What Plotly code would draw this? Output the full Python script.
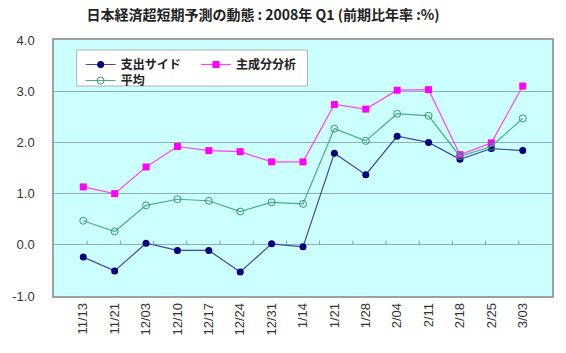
import plotly.graph_objects as go

categories = ["11/13", "11/21", "12/03", "12/10", "12/17", "12/24", "12/31", "1/14",
              "1/21", "1/28", "2/04", "2/11", "2/18", "2/25", "3/03"]
shishutsu = [-0.24, -0.51, 0.03, -0.11, -0.11, -0.53, 0.02, -0.04,
             1.79, 1.37, 2.12, 2.00, 1.67, 1.88, 1.84]
shuseibun = [1.13, 1.00, 1.52, 1.92, 1.84, 1.82, 1.62, 1.62,
             2.74, 2.65, 3.02, 3.03, 1.76, 1.99, 3.10]
heikin = [0.47, 0.26, 0.77, 0.89, 0.86, 0.65, 0.83, 0.80,
          2.27, 2.03, 2.56, 2.52, 1.73, 1.92, 2.47]
y_ticks = [-1.0, 0.0, 1.0, 2.0, 3.0, 4.0]
title_text = "日本経済超短期予測の動態 : 2008年 Q1 (前期比年率 :%)"

W, H = 566, 353
ML, MR, MT, MB = 49, 12, 40, 57

n = len(categories)
boundaries = [i + 0.5 for i in range(n - 1)]

fig = go.Figure()
# category-axis tick marks along the y=0 line (Excel-style), drawn as upward error bars
fig.add_trace(go.Scatter(x=boundaries, y=[0] * len(boundaries), xaxis="x2", yaxis="y",
                         mode="markers", marker=dict(size=1, opacity=0),
                         error_y=dict(type="data", symmetric=False, array=[0.08] * len(boundaries),
                                      arrayminus=[0] * len(boundaries), width=0,
                                      color="#7FA0A0", thickness=1),
                         showlegend=False, hoverinfo="skip"))
fig.add_trace(go.Scatter(x=categories, y=shishutsu, name="支出サイド", mode="lines+markers",
                         line=dict(color="#3F48A8", width=1.2),
                         marker=dict(symbol="circle", size=7, color="#000080"),
                         legend="legend"))
fig.add_trace(go.Scatter(x=categories, y=shuseibun, name="主成分分析", mode="lines+markers",
                         line=dict(color="#FF40FF", width=1.2),
                         marker=dict(symbol="square", size=7, color="#FF00FF"),
                         legend="legend2"))
fig.add_trace(go.Scatter(x=categories, y=heikin, name="平均", mode="lines+markers",
                         line=dict(color="#4CAF7D", width=1.2),
                         marker=dict(symbol="circle-open", size=7, color="#3A9A6A", line=dict(width=1)),
                         legend="legend3"))

pw = W - ML - MR
ph = H - MT - MB
def px(xp):
    return (xp - ML) / pw
def py(yp):
    return 1 - (yp - MT) / ph

font_main = "Liberation Sans, Arial, sans-serif"
font_jp = "Noto Sans CJK JP, sans-serif"
legend_font = dict(family=font_jp, size=12, color="#222222", weight="bold")

def leg(xp, yp):
    return dict(x=px(xp), y=py(yp), xanchor="left", yanchor="top", orientation="v",
                bgcolor="rgba(0,0,0,0)", font=legend_font, itemwidth=30)

fig.update_layout(
    width=W, height=H,
    margin=dict(l=ML, r=MR, t=MT, b=MB),
    paper_bgcolor="white",
    plot_bgcolor="#CCFFFF",
    font=dict(family=font_main, size=12, color="#333333"),
    title=dict(text=title_text, x=263 / W, xanchor="center", y=1 - 15 / H, yanchor="middle",
               font=dict(family=font_jp, size=14, color="#222222", weight="bold")),
    xaxis=dict(type="category", showgrid=False, showline=True, linecolor="#A0A0A0", linewidth=1.5,
               mirror=True, tickangle=-90, ticks="", tickfont=dict(size=13, color="#333333"),
               zeroline=False),
    xaxis2=dict(type="linear", overlaying="x", anchor="y", range=[-0.5, n - 0.5],
                visible=False, showgrid=False, zeroline=False),
    yaxis=dict(range=[-1.0, 4.0], tickvals=y_ticks, ticktext=[f"{v:.1f}" for v in y_ticks],
               showgrid=True, gridcolor="#8FB0B0", gridwidth=1, zeroline=True,
               zerolinecolor="#8FB0B0", zerolinewidth=1, showline=True, linecolor="#A0A0A0",
               linewidth=1.5, mirror=True, ticks="", ticklabelstandoff=15,
               tickfont=dict(size=13, color="#333333")),
    legend=leg(76, 50),
    legend2=leg(193, 50),
    legend3=leg(76, 66),
    shapes=[dict(type="rect", xref="paper", yref="paper", x0=px(72), x1=px(306), y0=py(86), y1=py(50),
                 fillcolor="white", line=dict(color="#B0B0B0", width=1), layer="above")],
)

fig.write_html("out.html")
